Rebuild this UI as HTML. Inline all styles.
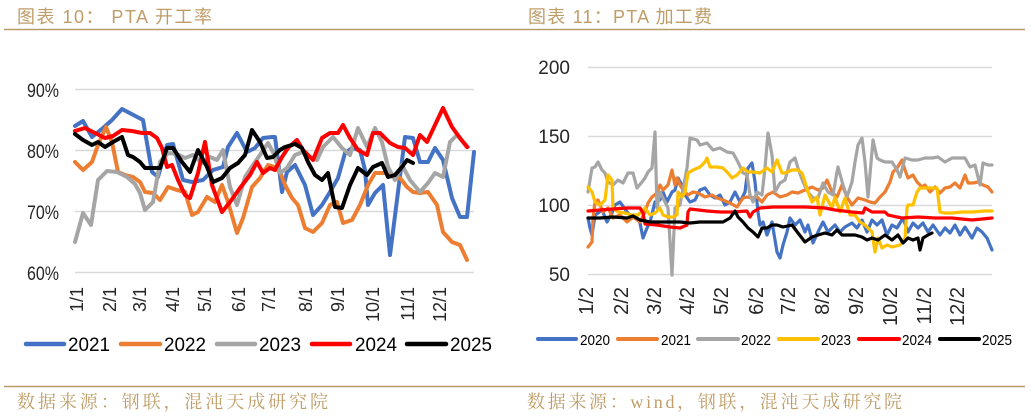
<!DOCTYPE html>
<html><head><meta charset="utf-8"><style>
html,body{margin:0;padding:0;background:#fff;}
svg{display:block;}
text{font-family:"Liberation Sans","Noto Sans CJK SC",sans-serif;}
.hd{font-family:"Liberation Sans","Noto Sans CJK SC",sans-serif;fill:#bf9d68;font-size:18px;}
.ft{font-family:"Liberation Serif","Noto Serif CJK SC",serif;fill:#bf9d68;font-size:18px;}
.ax{fill:#262626;}
</style></head><body>
<svg width="1035" height="417" viewBox="0 0 1035 417" xmlns="http://www.w3.org/2000/svg">
<rect width="1035" height="417" fill="#fff"/>
<!-- headers -->
<text class="hd" x="17" y="23" textLength="195" lengthAdjust="spacing">图表 10： PTA 开工率</text>
<text class="hd" x="528" y="23" textLength="184" lengthAdjust="spacing">图表 11：PTA 加工费</text>
<line x1="4" y1="29.5" x2="1025" y2="29.5" stroke="#b89a68" stroke-width="1.5"/>
<!-- footers -->
<line x1="4" y1="386.5" x2="1025" y2="386.5" stroke="#b89a68" stroke-width="1.5"/>
<text class="ft" x="17" y="408" textLength="311" lengthAdjust="spacing">数据来源：钢联，混沌天成研究院</text>
<text class="ft" x="527" y="408" textLength="375" lengthAdjust="spacing">数据来源：wind，钢联，混沌天成研究院</text>

<!-- LEFT CHART -->
<g stroke="#d9d9d9" stroke-width="1.5">
<line x1="75" y1="89.5" x2="474" y2="89.5"/>
<line x1="75" y1="150.5" x2="474" y2="150.5"/>
<line x1="75" y1="211.5" x2="474" y2="211.5"/>
<line x1="75" y1="272.5" x2="474" y2="272.5"/>
</g>
<g class="ax" font-size="19" text-anchor="end">
<text x="59" y="97" textLength="32" lengthAdjust="spacingAndGlyphs">90%</text>
<text x="59" y="158" textLength="32" lengthAdjust="spacingAndGlyphs">80%</text>
<text x="59" y="219" textLength="32" lengthAdjust="spacingAndGlyphs">70%</text>
<text x="59" y="280" textLength="32" lengthAdjust="spacingAndGlyphs">60%</text>
</g>
<g class="ax" font-size="18" text-anchor="end" dominant-baseline="central">
<text transform="translate(77,287) rotate(-90)">1/1</text>
<text transform="translate(110,287) rotate(-90)">2/1</text>
<text transform="translate(140,287) rotate(-90)">3/1</text>
<text transform="translate(173,287) rotate(-90)">4/1</text>
<text transform="translate(205,287) rotate(-90)">5/1</text>
<text transform="translate(239,287) rotate(-90)">6/1</text>
<text transform="translate(269,287) rotate(-90)">7/1</text>
<text transform="translate(306,287) rotate(-90)">8/1</text>
<text transform="translate(338,287) rotate(-90)">9/1</text>
<text transform="translate(373,287) rotate(-90)">10/1</text>
<text transform="translate(408,287) rotate(-90)">11/1</text>
<text transform="translate(440,287) rotate(-90)">12/1</text>
</g>
<g fill="none" stroke-width="4" stroke-linejoin="round" stroke-linecap="round">
<polyline stroke="#4472C4" points="75,126 83,121 92,137 103,128 112,120 122,109 143,120 152,172 158,177 167,145 173,144 183,180 192,182 203,180 213,170 223,167 228,147 237,133 247,152 255,148 263,138 272,137 275,137 282,192 287,172 295,165 305,185 313,215 322,205 330,192 338,178 345,153 352,148 360,150 365,170 368,205 375,193 383,185 390,255 398,192 405,137 413,138 420,162 428,162 435,148 443,160 452,198 460,217 467,217 474,152"/>
<polyline stroke="#ED7D31" points="75,162 83,170 92,162 98,145 106,127 112,142 118,172 125,175 133,177 140,182 145,192 153,193 160,200 168,187 177,190 185,192 192,215 198,212 207,197 215,202 222,185 228,202 237,233 243,218 252,187 260,178 268,165 275,167 280,172 285,185 292,198 298,205 305,228 313,232 322,223 330,205 337,202 343,223 352,220 360,205 368,185 375,173 385,173 393,177 400,178 407,187 413,192 420,193 428,192 437,205 443,232 452,242 460,245 467,260"/>
<polyline stroke="#A5A5A5" points="75,242 83,213 91,225 98,180 107,171 117,172 127,177 135,184 140,193 145,210 153,202 160,162 168,153 177,154 185,158 193,155 202,163 210,157 217,160 223,150 230,187 237,205 245,177 253,165 262,152 268,143 273,152 280,173 287,168 295,155 303,152 310,157 317,160 323,147 333,137 342,148 350,155 358,128 367,147 375,128 382,142 388,167 395,180 402,165 410,180 420,192 428,183 435,173 443,177 450,142 457,135 463,142 468,147"/>
<polyline stroke="#FF0000" points="75,131 85,128 95,133 105,138 113,136 122,130 132,131 142,133 150,133 157,138 162,148 167,167 172,165 178,180 185,195 190,198 198,173 205,142 212,185 222,212 230,202 240,188 250,175 257,162 263,173 270,168 275,170 282,157 288,148 297,140 303,150 313,160 322,138 330,133 338,133 343,125 350,138 358,150 367,155 373,133 380,133 390,143 398,147 405,148 413,155 420,135 427,142 435,125 443,108 452,127 460,138 467,147"/>
<polyline stroke="#000000" points="75,134 83,140 92,145 98,142 105,147 113,142 122,137 128,155 133,157 140,162 145,168 153,168 160,168 167,148 173,148 182,162 190,172 198,150 207,167 213,182 222,178 230,168 238,163 245,155 252,130 260,142 267,158 273,157 280,150 285,147 295,144 302,148 308,162 315,175 322,180 328,173 335,207 342,208 350,185 358,168 367,175 373,167 382,163 388,177 395,175 402,167 407,160 413,163"/>
</g>
<!-- left legend -->
<g stroke-width="4.5" stroke-linecap="round">
<line x1="26" y1="344" x2="64" y2="344" stroke="#4472C4"/>
<line x1="121" y1="344" x2="160" y2="344" stroke="#ED7D31"/>
<line x1="217" y1="344" x2="255" y2="344" stroke="#A5A5A5"/>
<line x1="312" y1="344" x2="350" y2="344" stroke="#FF0000"/>
<line x1="407" y1="344" x2="446" y2="344" stroke="#000000"/>
</g>
<g fill="#000" font-size="19">
<text x="68" y="351" textLength="42" lengthAdjust="spacingAndGlyphs">2021</text>
<text x="164" y="351" textLength="42" lengthAdjust="spacingAndGlyphs">2022</text>
<text x="259" y="351" textLength="42" lengthAdjust="spacingAndGlyphs">2023</text>
<text x="355" y="351" textLength="42" lengthAdjust="spacingAndGlyphs">2024</text>
<text x="450" y="351" textLength="42" lengthAdjust="spacingAndGlyphs">2025</text>
</g>

<!-- RIGHT CHART -->
<g stroke="#d9d9d9" stroke-width="1.5">
<line x1="588" y1="67.5" x2="992" y2="67.5"/>
<line x1="588" y1="136.5" x2="992" y2="136.5"/>
<line x1="588" y1="205.5" x2="992" y2="205.5"/>
<line x1="588" y1="274.5" x2="992" y2="274.5"/>
</g>
<g class="ax" font-size="19" text-anchor="end">
<text x="570" y="74">200</text>
<text x="570" y="143">150</text>
<text x="570" y="212">100</text>
<text x="570" y="281">50</text>
</g>
<g class="ax" font-size="20" text-anchor="end" dominant-baseline="central">
<text transform="translate(587,287) rotate(-90)">1/2</text>
<text transform="translate(622,287) rotate(-90)">2/2</text>
<text transform="translate(655,287) rotate(-90)">3/2</text>
<text transform="translate(688,287) rotate(-90)">4/2</text>
<text transform="translate(722,287) rotate(-90)">5/2</text>
<text transform="translate(757,287) rotate(-90)">6/2</text>
<text transform="translate(789,287) rotate(-90)">7/2</text>
<text transform="translate(823,287) rotate(-90)">8/2</text>
<text transform="translate(857,287) rotate(-90)">9/2</text>
<text transform="translate(891,287) rotate(-90)">10/2</text>
<text transform="translate(925,287) rotate(-90)">11/2</text>
<text transform="translate(958,287) rotate(-90)">12/2</text>
</g>
<g fill="none" stroke-width="3.2" stroke-linejoin="round" stroke-linecap="round">
<polyline stroke="#4472C4" points="588,218 590,228 592,235 595,215 598,213 602,210 607,222 612,213 615,205 620,202 627,212 632,217 637,218 640,223 643,238 647,228 650,222 655,202 660,200 663,192 667,202 672,192 675,190 678,178 682,185 685,195 690,202 695,200 700,190 705,188 710,195 715,198 720,195 725,205 730,202 735,192 740,202 745,192 748,168 752,163 755,182 758,212 760,225 763,222 767,235 772,222 777,252 780,258 783,245 787,232 790,218 795,225 800,220 805,232 808,225 813,243 818,232 823,222 828,232 835,225 840,232 845,227 852,223 857,228 862,220 867,232 872,220 877,225 882,220 887,235 892,225 897,228 903,218 908,232 913,223 918,228 923,223 928,232 933,225 940,235 945,228 950,233 955,225 960,235 965,227 972,238 977,228 982,232 987,238 992,250"/>
<polyline stroke="#ED7D31" points="588,247 592,242 593,218 595,202 598,200 603,212 608,208 613,218 620,215 627,222 633,217 640,222 645,212 648,203 652,197 657,193 660,185 663,190 668,185 672,170 675,185 677,178 680,185 683,190 688,195 693,192 698,193 705,197 712,195 717,198 723,200 730,203 737,207 743,198 747,197 752,198 757,197 762,202 767,195 773,192 780,197 787,195 792,192 798,193 805,190 812,187 818,190 823,188 827,180 832,192 837,197 842,185 847,197 852,205 858,198 865,200 870,202 875,203 880,197 885,192 890,182 893,172 897,168 902,160 905,170 908,178 913,175 917,182 922,187 925,185 930,192 935,187 940,193 945,188 950,187 955,183 960,188 965,175 968,183 973,183 978,182 983,185 988,187 992,192"/>
<polyline stroke="#A5A5A5" points="588,192 592,168 595,167 598,162 602,170 605,173 608,182 613,185 618,180 623,183 628,173 633,173 637,188 642,182 645,178 648,172 652,168 655,132 657,208 660,192 664,200 668,208 672,275 675,208 680,205 687,168 690,138 697,140 700,145 707,143 713,150 720,148 727,152 733,153 738,162 743,173 747,175 750,195 753,202 757,192 762,195 765,168 768,133 772,155 775,192 780,183 785,180 790,162 795,158 798,168 803,182 808,192 813,198 818,198 823,183 828,192 833,195 837,172 838,167 843,185 847,197 852,182 855,162 858,145 862,138 865,162 868,197 873,140 877,158 880,160 885,162 892,162 897,170 900,177 905,158 912,160 918,160 925,158 932,158 938,157 945,162 952,158 958,158 965,158 970,167 975,165 980,185 983,163 988,165 992,165"/>
<polyline stroke="#FFC000" points="588,187 592,192 595,202 600,205 605,200 608,175 612,180 613,208 618,212 625,213 632,215 638,215 645,208 650,215 655,213 660,208 663,215 668,217 673,217 677,215 678,192 682,197 685,192 688,173 693,170 700,167 705,162 707,158 710,167 717,167 723,168 728,173 732,178 737,175 743,168 748,172 753,172 760,173 767,168 772,172 777,160 782,173 785,173 792,170 798,170 802,173 805,182 808,192 812,202 817,197 820,215 825,195 832,208 835,197 840,212 845,198 850,215 855,215 860,222 865,225 868,228 872,232 875,252 878,238 882,248 887,245 892,247 900,245 905,238 907,208 908,205 913,205 917,192 920,188 925,188 932,188 937,188 940,212 945,213 952,213 962,212 972,212 985,211 992,211"/>
<polyline stroke="#FF0000" points="588,211 600,210 613,209 627,208 640,208 643,213 645,224 657,225 670,227 680,228 687,225 688,212 690,209 707,211 720,212 733,212 747,211 750,217 753,212 760,208 773,207 790,207 805,207 825,208 835,210 852,212 863,213 865,208 872,212 885,212 888,215 902,218 918,217 935,218 952,218 972,220 992,218"/>
<polyline stroke="#000000" points="588,218 600,218 613,217 627,218 633,216 640,220 650,222 660,222 670,222 680,222 690,223 700,222 713,222 723,222 730,218 735,211 738,217 743,222 748,228 753,232 758,237 762,228 767,228 772,225 777,225 783,227 792,225 798,233 805,242 812,237 818,235 825,233 832,235 837,230 842,235 848,235 855,235 862,237 867,240 872,238 878,240 885,235 892,240 898,235 903,243 908,238 913,240 918,238 920,250 923,238 928,235 932,233"/>
</g>
<!-- right legend -->
<g stroke-width="4" stroke-linecap="round">
<line x1="538" y1="339" x2="576" y2="339" stroke="#4472C4"/>
<line x1="618" y1="339" x2="657" y2="339" stroke="#ED7D31"/>
<line x1="698" y1="339" x2="738" y2="339" stroke="#A5A5A5"/>
<line x1="779" y1="339" x2="818" y2="339" stroke="#FFC000"/>
<line x1="859" y1="339" x2="899" y2="339" stroke="#FF0000"/>
<line x1="940" y1="339" x2="979" y2="339" stroke="#000000"/>
</g>
<g fill="#000" font-size="15">
<text x="580" y="345" textLength="30" lengthAdjust="spacingAndGlyphs">2020</text>
<text x="661" y="345" textLength="30" lengthAdjust="spacingAndGlyphs">2021</text>
<text x="741" y="345" textLength="30" lengthAdjust="spacingAndGlyphs">2022</text>
<text x="821" y="345" textLength="30" lengthAdjust="spacingAndGlyphs">2023</text>
<text x="902" y="345" textLength="30" lengthAdjust="spacingAndGlyphs">2024</text>
<text x="982" y="345" textLength="30" lengthAdjust="spacingAndGlyphs">2025</text>
</g>
</svg>
</body></html>
